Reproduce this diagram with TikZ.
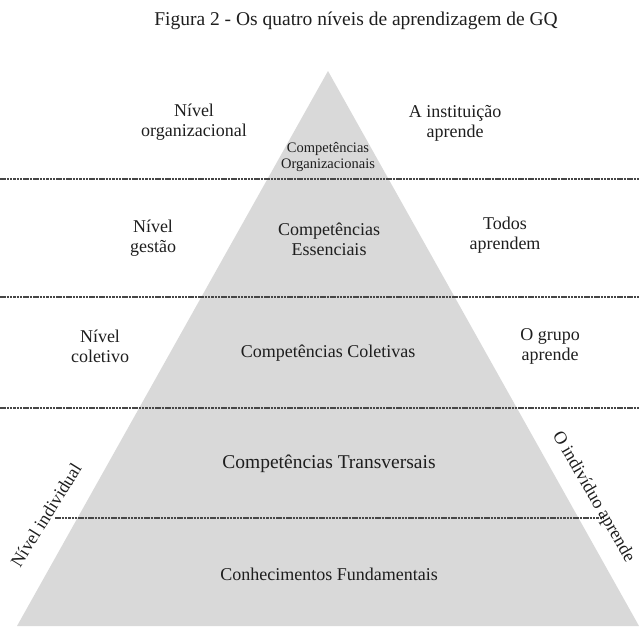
\documentclass[tikz,border=0pt]{standalone}
\usepackage{fontspec}
\setmainfont{Liberation Serif}
\usepackage{tikz}
\usepackage{xcolor}
\definecolor{pyrgray}{RGB}{217,217,217}
\definecolor{sepgray}{RGB}{70,70,70}
\definecolor{inkgray}{RGB}{30,30,30}

\begin{document}
\begin{tikzpicture}[x=1pt, y=-1pt,
    sep/.style={sepgray, line width=1.7pt, dash pattern=on 2.5pt off 0.8pt},
    lbl/.style={inkgray, font=\fontsize{18}{20}\selectfont, align=center, inner sep=0pt}]
        \useasboundingbox (0,0) rectangle (639,626);
        % pyramid
        \fill[pyrgray] (328,71) -- (639,626) -- (17,626) -- cycle;
        % level separators
        \draw[sep] (0,179) -- (639,179);
        \draw[sep] (0,297) -- (639,297);
        \draw[sep] (0,408) -- (639,408);
        \draw[sep] (55,518) -- (603,518);
        \node[lbl, font=\fontsize{19.5}{21}\selectfont] (title) at (356,21) {Figura 2 - Os quatro níveis de aprendizagem de GQ};
        % organizational level
        \node[lbl] (orgL) at (194,122) {Nível\\organizacional};
        \node[lbl] (orgR) at (455,123) {A instituição\\aprende};
        \node[lbl, font=\fontsize{14.5}{16.5}\selectfont] (orgC) at (328,157) {Competências\\Organizacionais};
        % management level
        \node[lbl] (gesL) at (153,238) {Nível\\gestão};
        \node[lbl] (gesC) at (329,239) {Competências\\Essenciais};
        \node[lbl] (gesR) at (505,235) {Todos\\aprendem};
        % collective level
        \node[lbl] (colL) at (100,346) {Nível\\coletivo};
        \node[lbl] (colC) at (328,353) {Competências Coletivas};
        \node[lbl] (colR) at (550,346) {O grupo\\aprende};
        % individual level
        \node[lbl, font=\fontsize{19.5}{21}\selectfont] (traC) at (329,464) {Competências Transversais};
        \node[lbl] (funC) at (329,574) {Conhecimentos Fundamentais};
        \node[lbl, rotate=58] (indL) at (46,515) {Nível individual};
        \node[lbl, rotate=-60] (indR) at (593,497) {O indivíduo aprende};
    \end{tikzpicture}
\end{document}
